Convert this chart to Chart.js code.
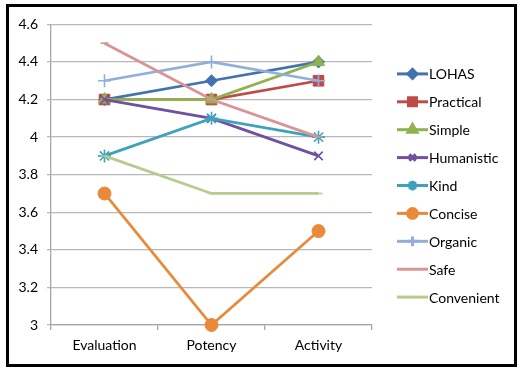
<!DOCTYPE html>
<html lang="en">
<head>
  <meta charset="UTF-8" />
  <title>Semantic profile</title>
  <script src="https://cdn.jsdelivr.net/npm/chart.js"></script>
  <style>
    * { margin: 0; padding: 0; box-sizing: border-box; }
    body { background: #fff; width: 529px; height: 374px; overflow: hidden; }
    .frame {
      position: absolute;
      left: 6px; top: 4px;
      width: 511px; height: 363px;
      border: 3px solid #000;
      background: #fff;
    }
    .frame canvas { display: block; }
  </style>
</head>
<body>
  <div class="frame">
    <canvas id="chart"></canvas>
  </div>

  <script>
    // data
    const categories = ['Evaluation', 'Potency', 'Activity'];
    const seriesNames = ['LOHAS', 'Practical', 'Simple', 'Humanistic', 'Kind', 'Concise', 'Organic', 'Safe', 'Convenient'];
    const lohas      = [4.2, 4.3, 4.4];
    const practical  = [4.2, 4.2, 4.3];
    const simple     = [4.2, 4.2, 4.4];
    const humanistic = [4.2, 4.1, 3.9];
    const kind       = [3.9, 4.1, 4.0];
    const concise    = [3.7, 3.0, 3.5];
    const organic    = [4.3, 4.4, 4.3];
    const safe       = [4.5, 4.2, 4.0];
    const convenient = [3.9, 3.7, 3.7];
    const yTicks = [3, 3.2, 3.4, 3.6, 3.8, 4, 4.2, 4.4, 4.6];

    const seriesValues = [lohas, practical, simple, humanistic, kind, concise, organic, safe, convenient];
    const colors = ['#4273b0', '#be4b48', '#8fb24f', '#7050a0', '#3fa2bd', '#e98a3a', '#93aedb', '#d99493', '#b5cc8e'];
    const markers = ['rectRot', 'rect', 'triangle', 'crossRot', 'star', 'circle', 'cross', 'line', 'line'];
    const radii = [6, 7.5, 7, 6, 6.5, 6.5, 6.5, 4, 4];
    const outlined = ['crossRot', 'star', 'cross', 'line'];

    const font = "Lato, 'Open Sans', sans-serif";

    const datasets = seriesNames.map((name, i) => ({
      label: name,
      data: seriesValues[i],
      borderColor: colors[i],
      backgroundColor: colors[i],
      borderWidth: 2.75,
      pointStyle: markers[i],
      pointRadius: radii[i],
      pointHoverRadius: radii[i],
      pointBorderWidth: outlined.includes(markers[i]) ? 1.6 : 1,
      pointBorderColor: colors[i],
      pointBackgroundColor: colors[i],
      tension: 0,
      clip: false,
      order: seriesNames.length - i
    }));

    // legend drawn like the office one: a line with the marker in the middle
    const sideLegend = {
      id: 'sideLegend',
      afterDraw(chart) {
        const ctx = chart.ctx;
        const area = chart.chartArea;
        const x0 = area.right + 25;
        const lineLen = 31;
        const step = 27.9;
        const n = chart.data.datasets.length;
        const yStart = chart.height / 2 - step * (n - 1) / 2;
        ctx.save();
        chart.data.datasets.forEach((ds, i) => {
          const y = yStart + i * step;
          ctx.strokeStyle = ds.borderColor;
          ctx.lineWidth = 3;
          ctx.beginPath();
          ctx.moveTo(x0, y);
          ctx.lineTo(x0 + lineLen, y);
          ctx.stroke();
          if (ds.pointStyle !== 'line') {
            ctx.fillStyle = ds.pointBackgroundColor;
            ctx.strokeStyle = ds.pointBorderColor;
            Chart.helpers.drawPoint(ctx, {
              pointStyle: ds.pointStyle,
              radius: ds.pointRadius * 0.75,
              rotation: 0,
              borderWidth: ds.pointBorderWidth
            }, x0 + lineLen / 2, y);
          }
          ctx.fillStyle = '#000';
          ctx.font = '14px ' + font;
          ctx.textBaseline = 'middle';
          ctx.textAlign = 'left';
          ctx.fillText(ds.label, x0 + lineLen + 1, y + 1);
        });
        ctx.restore();
      }
    };

    new Chart(document.getElementById('chart'), {
      type: 'line',
      data: { labels: categories, datasets: datasets },
      plugins: [sideLegend],
      options: {
        responsive: true,
        maintainAspectRatio: false,
        animation: false,
        events: [],
        layout: { padding: { top: 16, right: 142, left: 0, bottom: 0 } },
        plugins: {
          legend: { display: false },
          tooltip: { enabled: false }
        },
        scales: {
          x: {
            offset: true,
            grid: {
              display: true,
              drawOnChartArea: false,
              offset: true,
              tickLength: 5,
              color: '#a6a6a6',
              lineWidth: 1.3
            },
            border: { color: '#a6a6a6', width: 1.3 },
            ticks: { color: '#000', font: { family: font, size: 14 }, padding: 7 },
            afterFit(s) { s.height = 39; }
          },
          y: {
            min: 3,
            max: 4.6,
            afterBuildTicks(s) { s.ticks = yTicks.map(v => ({ value: v })); },
            grid: { color: '#b8b8b8', lineWidth: 1.3, tickLength: 4 },
            border: { color: '#a6a6a6', width: 1.3 },
            ticks: {
              color: '#000',
              font: { family: font, size: 14 },
              padding: 9,
              callback: v => String(v)
            },
            afterFit(s) { s.width = 42; }
          }
        }
      }
    });
  </script>
</body>
</html>
